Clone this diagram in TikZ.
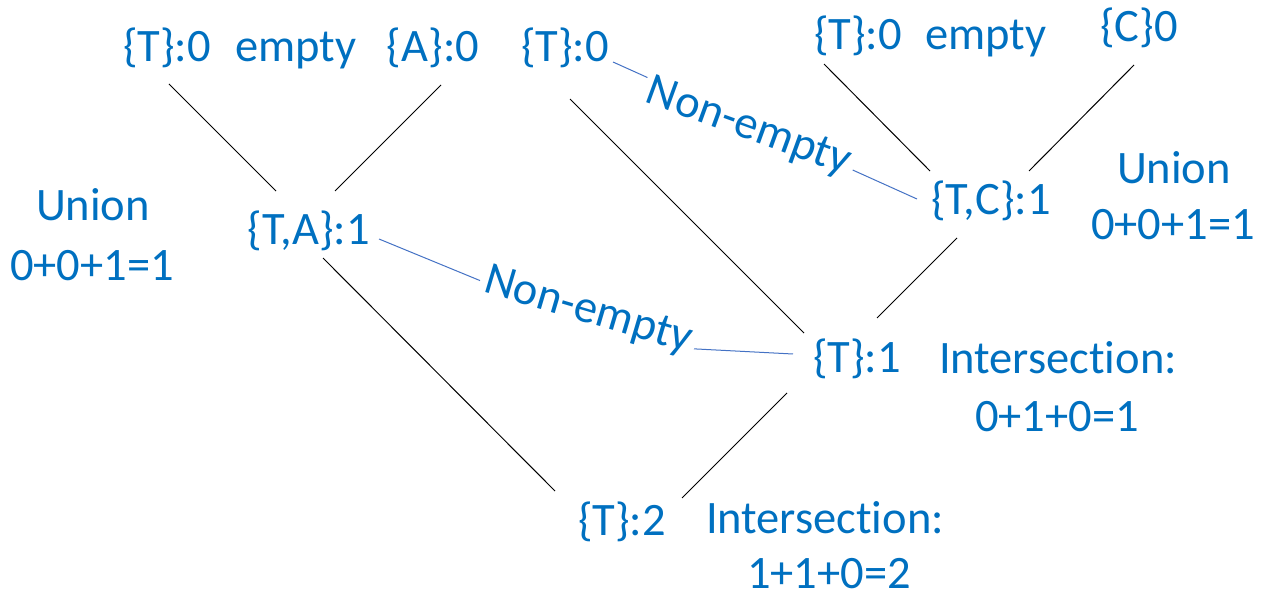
\documentclass[tikz,border=0pt]{standalone}
\usepackage{fontspec}
\setmainfont[Ligatures=NoCommon]{Carlito}
\definecolor{txtblue}{HTML}{0070C0}
\definecolor{lnblue}{HTML}{4472C4}
\begin{document}
\begin{tikzpicture}[x=1pt,y=-1pt,
  lbl/.style={font=\fontsize{46.5}{57}\selectfont, text=txtblue, inner sep=0pt, anchor=base},
  blackline/.style={black, line width=1pt},
  blueline/.style={lnblue, line width=1pt},
  nelbl/.style={font=\fontsize{46.5}{57}\selectfont, text=txtblue, fill=white, inner sep=5pt, anchor=center}]
\useasboundingbox (0,0) rectangle (1270,596);
% top row
\node[lbl] (t0a) at (167,62) {\{T\}:0};
\node[lbl] (emp1) at (296,62) {empty};
\node[lbl] (a0) at (433,62) {\{A\}:0};
\node[lbl] (t0b) at (565,62) {\{T\}:0};
\node[lbl] (t0c) at (858,50) {\{T\}:0};
\node[lbl] (emp2) at (986,50) {empty};
\node[lbl] (c0) at (1139,42) {\{C\}0};
% middle
\node[lbl] (ta) at (309,245) {\{T,A\}:1};
\node[lbl] (unionL) at (93,221) {Union};
\node[lbl] (exprL) at (92,280) {0+0+1=1};
\node[lbl] (tc) at (991,215) {\{T,C\}:1};
\node[lbl] (unionR) at (1174,184) {Union};
\node[lbl] (exprR) at (1173,240) {0+0+1=1};
\node[lbl] (t1) at (857,372) {\{T\}:1};
\node[lbl] (interR) at (1058,373) {Intersection:};
\node[lbl] (exprI1) at (1057,431) {0+1+0=1};
\node[lbl] (t2) at (622,535) {\{T\}:2};
\node[lbl] (interB) at (825,533) {Intersection:};
\node[lbl] (exprI2) at (829,588) {1+1+0=2};
% black connectors
\draw[blackline] ([shift={(2,22)}]t0a.base) -- ([shift={(-33,-54)}]ta.base);
\draw[blackline] ([shift={(8,23)}]a0.base) -- ([shift={(26,-54)}]ta.base);
\draw[blackline] ([shift={(14,13)}]ta.base) -- ([shift={(-67,-44)}]t2.base);
\draw[blackline] ([shift={(5,37)}]t0b.base) -- ([shift={(-53,-39)}]t1.base);
\draw[blackline] ([shift={(-34,14)}]t0c.base) -- ([shift={(-61,-44)}]tc.base);
\draw[blackline] ([shift={(-5,23)}]c0.base) -- ([shift={(38,-44)}]tc.base);
\draw[blackline] ([shift={(-34,23)}]tc.base) -- ([shift={(20,-54)}]t1.base);
\draw[blackline] ([shift={(-70,21)}]t1.base) -- ([shift={(60,-37)}]t2.base);
% blue connectors
\draw[blueline] ([shift={(48,0)}]t0b.base) -- ([shift={(-74,-16)}]tc.base);
\coordinate (bend) at (639,346);
\draw[blueline] ([shift={(70,-6)}]ta.base) -- (bend) -- ([shift={(-64,-18)}]t1.base);
% labels on the blue connectors
\node[nelbl, rotate=-20] (ne1) at (748.5,128) {Non-empty};
\node[nelbl, rotate=-16.5] (ne2) at (588,311.5) {Non-empty};
\end{tikzpicture}
\end{document}
